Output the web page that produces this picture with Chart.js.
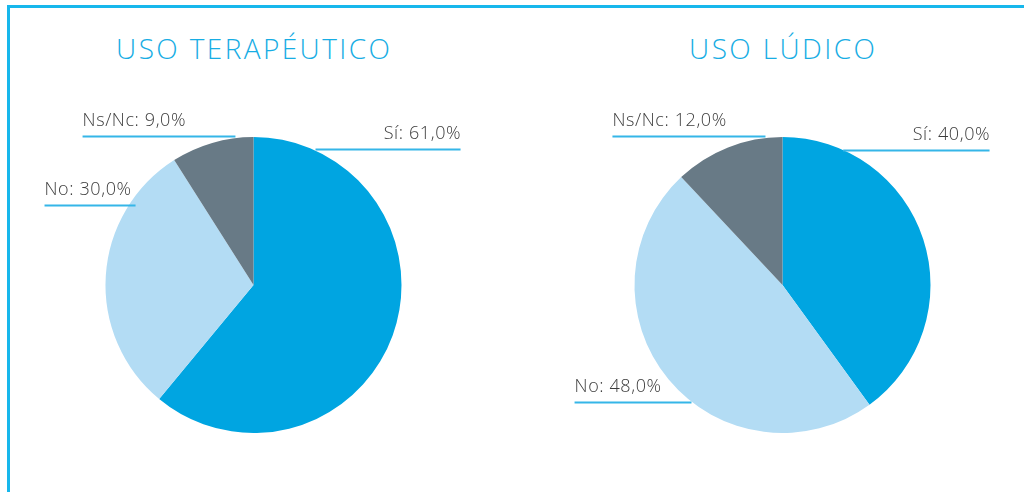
<!DOCTYPE html>
<html>
<head>
<meta charset="utf-8">
<script src="https://cdn.jsdelivr.net/npm/chart.js@4.4.1/dist/chart.umd.min.js"></script>
<style>
  html, body { margin: 0; padding: 0; background: #ffffff; }
  #wrap { position: relative; width: 1024px; height: 492px; overflow: hidden; background: #fff; }
  #wrap canvas { position: absolute; left: 0; top: 0; }
  .frameTop { position: absolute; left: 7px; top: 5px; width: 1017px; height: 3px; background: #17b7ec; }
  .frameLeft { position: absolute; left: 7px; top: 5px; width: 3px; height: 487px; background: #17b7ec; }
  .title { position: absolute; top: 29px; width: 400px; text-align: center;
           font-family: "Open Sans", sans-serif; font-weight: 300; font-size: 28px;
           letter-spacing: 2.4px; padding-left: 2.4px; box-sizing: border-box;
           color: #17ade4; line-height: 38px; white-space: nowrap; }
</style>
</head>
<body>
<div id="wrap">
  <div class="frameTop"></div>
  <div class="frameLeft"></div>
  <div class="title" id="t1" style="left:53px"></div>
  <div class="title" id="t2" style="left:582px"></div>
  <canvas id="c1" width="1024" height="492"></canvas>
  <canvas id="c2" width="1024" height="492"></canvas>
</div>
<script>
// ---- data ----
const categories = ["Sí", "No", "Ns/Nc"];
const titles = ["USO TERAPÉUTICO", "USO LÚDICO"];
const terapeutico = [61.0, 30.0, 9.0];
const ludico = [40.0, 48.0, 12.0];
const sliceColors = ["#00a5e1", "#b3dcf4", "#687a86"];

// label leader layout (offsets relative to pie centre, in units of radius)
const layoutTerapeutico = [
  { dy: -0.919, x0: 0.419, x1: 1.399, align: "right" },
  { dy: -0.541, x0: -1.412, x1: -0.797, align: "left" },
  { dy: -1.004, x0: -1.155, x1: -0.122, align: "left" }
];
const layoutLudico = [
  { dy: -0.912, x0: 0.41, x1: 1.399, align: "right" },
  { dy: 0.789, x0: -1.405, x1: -0.615, align: "left" },
  { dy: -1.004, x0: -1.149, x1: -0.115, align: "left" }
];

document.getElementById("t1").textContent = titles[0];
document.getElementById("t2").textContent = titles[1];

function fmt(v) { return v.toFixed(1).replace(".", ",") + "%"; }

const leaderPlugin = {
  id: "leaders",
  afterDatasetsDraw(chart, args, opts) {
    const ctx = chart.ctx;
    const meta = chart.getDatasetMeta(0);
    const layout = opts.layout;
    const data = chart.data.datasets[0].data;
    ctx.save();
    meta.data.forEach((arc, i) => {
      const p = arc.getProps(["x", "y", "outerRadius"], true);
      const r = p.outerRadius;
      const L = layout[i];
      const y = Math.round(p.y + L.dy * r) + 0.5;
      const xa = p.x + L.x0 * r, xb = p.x + L.x1 * r;
      ctx.strokeStyle = "#35b6e8";
      ctx.lineWidth = 2;
      ctx.beginPath();
      ctx.moveTo(xa, y);
      ctx.lineTo(xb, y);
      ctx.stroke();
      ctx.fillStyle = "#3c3c3c";
      ctx.font = "300 18px 'Open Sans', sans-serif";
      ctx.letterSpacing = "0.6px";
      ctx.textBaseline = "alphabetic";
      ctx.textAlign = L.align;
      const tx = L.align === "right" ? xb + 0.6 : xa;
      ctx.fillText(chart.data.labels[i] + ": " + fmt(data[i]), tx, y - 11);
    });
    ctx.restore();
  }
};

function makePie(id, values, layout, pad) {
  return new Chart(document.getElementById(id), {
    type: "pie",
    data: {
      labels: categories,
      datasets: [{
        data: values,
        backgroundColor: sliceColors,
        borderWidth: 0,
        hoverOffset: 0,
        offset: 0
      }]
    },
    options: {
      responsive: false,
      devicePixelRatio: 1,
      animation: false,
      events: [],
      layout: { padding: pad },
      plugins: {
        legend: { display: false },
        tooltip: { enabled: false },
        title: { display: false },
        leaders: { layout: layout }
      }
    },
    plugins: [leaderPlugin]
  });
}

makePie("c1", terapeutico, layoutTerapeutico, { top: 137, bottom: 59, left: 105, right: 622 });
makePie("c2", ludico, layoutLudico, { top: 137, bottom: 59, left: 634, right: 93 });
</script>
</body>
</html>
